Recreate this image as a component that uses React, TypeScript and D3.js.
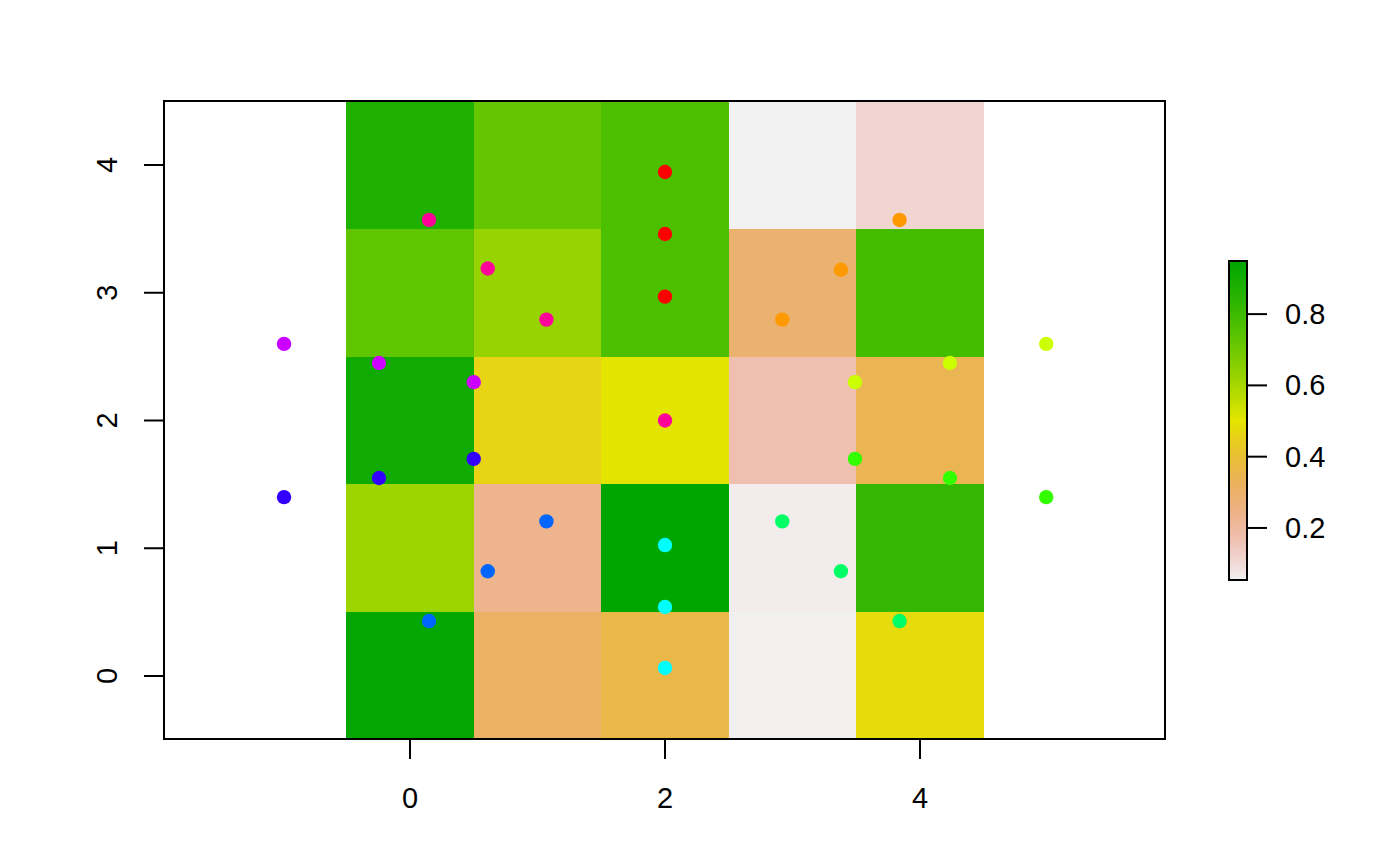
import React from "react";
import * as d3 from "d3";

// Raster cell centres
const cellXs = [0, 1, 2, 3, 4];
const cellYs = [4, 3, 2, 1, 0]; // rows from top to bottom
// Cell values, row by row (top row first)
const cellValues = [
  [0.873, 0.725, 0.774, 0.054, 0.112],
  [0.732, 0.631, 0.774, 0.293, 0.788],
  [0.909, 0.462, 0.505, 0.173, 0.345],
  [0.618, 0.233, 0.949, 0.065, 0.825],
  [0.936, 0.309, 0.363, 0.06, 0.479],
];

// Points
const pointX = [
  -0.988, -0.988, 0.149, 0.61, 1.07, -0.243, 0.5, -0.243, 0.5, 1.07, 0.61, 0.149,
  2, 2, 2, 2, 2, 2, 2, 3.84, 3.38, 2.92, 4.235, 3.49, 4.99, 4.99, 4.235, 3.49,
  2.92, 3.38, 3.84,
];
const pointY = [
  2.6, 1.4, 3.57, 3.19, 2.79, 2.45, 2.3, 1.55, 1.7, 1.21, 0.82, 0.43,
  3.945, 3.46, 2.97, 2.0, 1.025, 0.54, 0.063, 3.57, 3.18, 2.79, 2.45, 2.3, 2.6,
  1.4, 1.55, 1.7, 1.21, 0.82, 0.43,
];
const pointGroup = [
  8, 7, 9, 9, 9, 8, 8, 7, 7, 6, 6, 6,
  0, 0, 0, 9, 5, 5, 5, 1, 1, 1, 2, 2, 2,
  3, 3, 3, 4, 4, 4,
];
const groupColors = [
  "#FF0000", "#FF9900", "#CCFF00", "#33FF00", "#00FF66",
  "#00FFFF", "#0066FF", "#3300FF", "#CC00FF", "#FF0099",
];

const xTicks = [0, 2, 4];
const yTicks = [0, 1, 2, 3, 4];
const legendTicks = [0.2, 0.4, 0.6, 0.8];

function hsv(h: number, s: number, v: number): string {
  const i = Math.floor(h * 6);
  const f = h * 6 - i;
  const p = v * (1 - s);
  const q = v * (1 - f * s);
  const t = v * (1 - (1 - f) * s);
  let r = 0, g = 0, b = 0;
  switch (((i % 6) + 6) % 6) {
    case 0: r = v; g = t; b = p; break;
    case 1: r = q; g = v; b = p; break;
    case 2: r = p; g = v; b = t; break;
    case 3: r = p; g = q; b = v; break;
    case 4: r = t; g = p; b = v; break;
    default: r = v; g = p; b = q; break;
  }
  return d3.rgb(r * 255, g * 255, b * 255).formatHex();
}

// reversed terrain.colors: t = 0 -> light, t = 1 -> dark green
function terrain(t: number): string {
  const u = 1 - Math.max(0, Math.min(1, t));
  if (u < 0.5) {
    const w = u / 0.5;
    return hsv(4 / 12 - (2 / 12) * w, 1, 0.65 + 0.25 * w);
  }
  const w = (u - 0.5) / 0.5;
  return hsv(2 / 12 - (2 / 12) * w, 1 - w, 0.9 + 0.05 * w);
}

export default function App() {
  const W = 1400, H = 866;
  const x = d3.scaleLinear().domain([0, 2]).range([410, 665]);
  const y = d3.scaleLinear().domain([0, 4]).range([676, 165]);
  const box = { x0: 164, x1: 1165, y0: 101, y1: 739 };

  const all = cellValues.flat();
  const [zmin, zmax] = d3.extent(all) as [number, number];
  const norm = d3.scaleLinear().domain([zmin, zmax]).range([0, 1]);

  const leg = { x0: 1229, x1: 1247, y0: 261, y1: 580 };
  const ly = d3.scaleLinear().domain([zmin, zmax]).range([leg.y1, leg.y0]);
  const nSteps = 255;
  const steps = d3.range(nSteps);
  const font = "'Liberation Sans', Arial, Helvetica, sans-serif";
  const fs = 29;

  return (
    <svg width={W} height={H} style={{ position: "absolute", left: 0, top: 0, background: "#fff" }}>
      <rect x={0} y={0} width={W} height={H} fill="#fff" />
      {/* raster cells */}
      {cellValues.map((row, ri) =>
        row.map((v, ci) => {
          const cx = cellXs[ci], cy = cellYs[ri];
          const xa = x(cx - 0.5), xb = x(cx + 0.5);
          const ya = y(cy + 0.5), yb = y(cy - 0.5);
          return (
            <rect key={`c${ri}-${ci}`} x={xa} y={ya} width={xb - xa} height={yb - ya}
              fill={terrain(norm(v))} shapeRendering="crispEdges" />
          );
        })
      )}
      {/* points */}
      {pointX.map((px, i) => (
        <circle key={`p${i}`} cx={x(px)} cy={y(pointY[i])} r={7.2} fill={groupColors[pointGroup[i]]} />
      ))}
      {/* box */}
      <rect x={box.x0} y={box.y0} width={box.x1 - box.x0} height={box.y1 - box.y0}
        fill="none" stroke="#000" strokeWidth={2} />
      {/* x axis */}
      <line x1={x(xTicks[0])} x2={x(xTicks[xTicks.length - 1])} y1={box.y1} y2={box.y1} stroke="#000" strokeWidth={2} />
      {xTicks.map((t) => (
        <g key={`xt${t}`}>
          <line x1={x(t)} x2={x(t)} y1={box.y1} y2={box.y1 + 20} stroke="#000" strokeWidth={2} />
          <text x={x(t)} y={798} fontFamily={font} fontSize={fs} textAnchor="middle" dominantBaseline="central">{t}</text>
        </g>
      ))}
      {/* y axis */}
      {yTicks.map((t) => (
        <g key={`yt${t}`}>
          <line x1={box.x0 - 20} x2={box.x0} y1={y(t)} y2={y(t)} stroke="#000" strokeWidth={2} />
          <text x={107} y={y(t)} fontFamily={font} fontSize={fs} textAnchor="middle" dominantBaseline="central"
            transform={`rotate(-90 107 ${y(t)})`}>{t}</text>
        </g>
      ))}
      {/* legend */}
      {steps.map((i) => {
        const v0 = zmin + ((zmax - zmin) * i) / nSteps;
        const v1 = zmin + ((zmax - zmin) * (i + 1)) / nSteps;
        return (
          <rect key={`l${i}`} x={leg.x0} y={ly(v1)} width={leg.x1 - leg.x0} height={ly(v0) - ly(v1) + 0.5}
            fill={terrain((i + 0.5) / nSteps)} shapeRendering="crispEdges" />
        );
      })}
      <rect x={leg.x0} y={leg.y0} width={leg.x1 - leg.x0} height={leg.y1 - leg.y0} fill="none" stroke="#000" strokeWidth={2} />
      {legendTicks.map((t) => (
        <g key={`lt${t}`}>
          <line x1={leg.x1} x2={leg.x1 + 20} y1={ly(t)} y2={ly(t)} stroke="#000" strokeWidth={2} />
          <text x={1285} y={ly(t)} fontFamily={font} fontSize={fs} dominantBaseline="central">{t.toFixed(1)}</text>
        </g>
      ))}
    </svg>
  );
}
